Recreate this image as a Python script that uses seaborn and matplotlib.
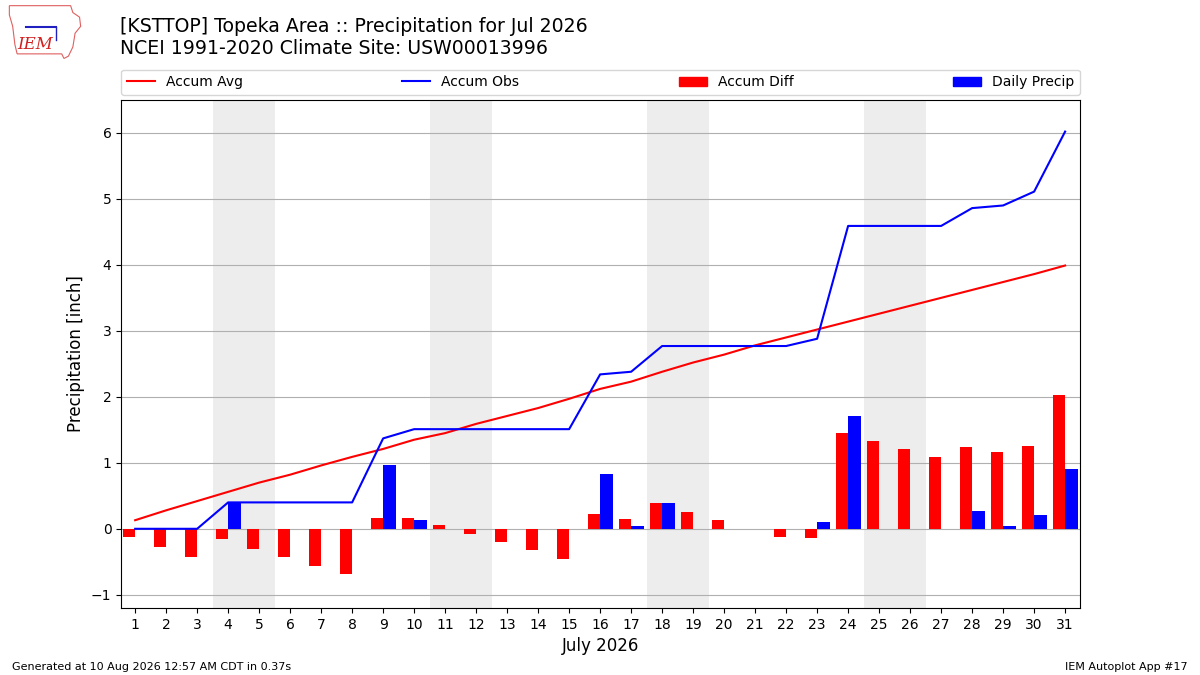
import numpy as np
import pandas as pd
import matplotlib
matplotlib.use("Agg")
import matplotlib.pyplot as plt
import seaborn as sns
from matplotlib.patches import Patch, Polygon
from matplotlib.lines import Line2D

days = list(range(1, 32))
daily_precip = [0.00, 0.00, 0.00, 0.40, 0.00, 0.00, 0.00, 0.00, 0.97, 0.14,
                0.00, 0.00, 0.00, 0.00, 0.00, 0.83, 0.04, 0.39, 0.00, 0.00,
                0.00, 0.00, 0.11, 1.71, 0.00, 0.00, 0.00, 0.27, 0.04, 0.21, 0.91]
accum_avg = [0.13, 0.28, 0.42, 0.56, 0.70, 0.82, 0.96, 1.09, 1.21, 1.35,
             1.45, 1.59, 1.71, 1.83, 1.97, 2.12, 2.23, 2.38, 2.52, 2.64,
             2.78, 2.90, 3.02, 3.14, 3.26, 3.38, 3.50, 3.62, 3.74, 3.86, 3.99]
weekends = [(4, 5), (11, 12), (18, 19), (25, 26)]

accum_obs = np.cumsum(daily_precip)
accum_diff = accum_obs - np.array(accum_avg)
df = pd.DataFrame({"day": days, "avg": accum_avg, "obs": accum_obs,
                   "diff": accum_diff, "daily": daily_precip})

fig = plt.figure(figsize=(12, 6.75), dpi=100)
ax = fig.add_axes([0.101, 0.0993, 0.799, 0.7527])

for a, b in weekends:
    ax.axvspan(a - 0.5, b + 0.5, color="#ededed", zorder=0, lw=0)

ax.bar(df["day"], df["diff"], width=-0.4, align="edge", color="red", zorder=2)
ax.bar(df["day"], df["daily"], width=0.4, align="edge", color="blue", zorder=2)
sns.lineplot(data=df, x="day", y="avg", color="red", lw=1.5, ax=ax, zorder=3)
sns.lineplot(data=df, x="day", y="obs", color="blue", lw=1.5, ax=ax, zorder=3)

ax.set_xlim(0.55, 31.48)
ax.set_ylim(-1.2, 6.5)
ax.set_xticks(days)
ax.set_yticks(range(-1, 7))
ax.yaxis.grid(True, color="#b0b0b0", lw=0.8, zorder=1)
ax.set_axisbelow(True)
ax.tick_params(labelsize=10)
ax.set_xlabel("July 2026", fontsize=12)
ax.set_ylabel("Precipitation [inch]", fontsize=12)

handles = [Line2D([], [], color="red", lw=1.5),
           Line2D([], [], color="blue", lw=1.5),
           Patch(color="red"), Patch(color="blue")]
ax.legend(handles, ["Accum Avg", "Accum Obs", "Accum Diff", "Daily Precip"],
          loc="lower left", bbox_to_anchor=(0, 1.01, 1, 0.05), mode="expand",
          ncol=4, fontsize=10, borderaxespad=0, handlelength=2.0)

fig.text(0.1, 0.975, "[KSTTOP] Topeka Area :: Precipitation for Jul 2026\n"
         "NCEI 1991-2020 Climate Site: USW00013996", fontsize=13.6, va="top",
         ha="left", linespacing=1.2)
fig.text(0.01, 0.008, "Generated at 10 Aug 2026 12:57 AM CDT in 0.37s", fontsize=8)
fig.text(0.99, 0.008, "IEM Autoplot App #17", fontsize=8, ha="right")

# simple logo
lax = fig.add_axes([0.005, 0.91, 0.065, 0.085])
lax.set_xlim(0, 70)
lax.set_ylim(0, 50)
lax.axis("off")
outline = [(3, 48), (58, 48), (60, 42), (66, 38), (67, 30), (62, 24), (60, 12),
           (56, 4), (52, 2), (50, 6), (10, 6), (8, 14), (6, 30), (3, 40)]
lax.add_patch(Polygon(outline, closed=True, fill=False, ec="#e06060", lw=0.8))
lax.plot([18, 45], [29, 29], color="#2020c0", lw=1.5)
lax.plot([45, 45], [29, 18], color="#2020c0", lw=1.0)
lax.text(26, 10, "IEM", color="#d02020", fontsize=12, family="serif",
         style="italic", ha="center")

fig.savefig("out.png", dpi=100)
